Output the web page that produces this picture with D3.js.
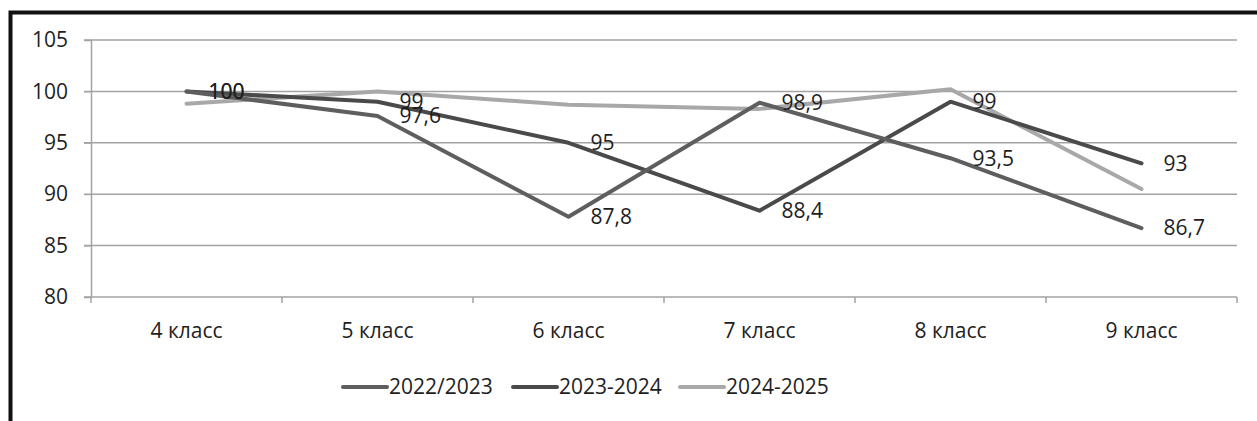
<!DOCTYPE html>
<html>
<head>
<meta charset="utf-8">
<script src="https://cdn.jsdelivr.net/npm/d3@7"></script>
<style>
  body { margin: 0; background: #fff; }
  svg { display: block; font-family: 'Open Sans', sans-serif; }
</style>
</head>
<body>
<div class="chart"></div>
<script>
const categories = ['4 класс', '5 класс', '6 класс', '7 класс', '8 класс', '9 класс'];
const seriesNames = ['2022/2023', '2023-2024', '2024-2025'];
const values2022 = [100, 97.6, 87.8, 98.9, 93.5, 86.7];
const values2023 = [100, 99, 95, 88.4, 99, 93];
const values2024 = [98.8, 100, 98.7, 98.3, 100.2, 90.5];
const yTicks = [80, 85, 90, 95, 100, 105];

const colors = ['#5e5e5e', '#4a4a4a', '#a8a8a8'];
const showLabels = [true, true, false];
const series = [values2022, values2023, values2024].map((v, i) => ({
  name: seriesNames[i], values: v, color: colors[i], labels: showLabels[i]
}));

const width = 1257, height = 421;
const fontSize = 21;
const textColor = '#1e1e1e';

const svg = d3.select('.chart')
  .append('svg')
  .attr('width', width)
  .attr('height', height);

// frame
svg.append('path')
  .attr('d', 'M10.5,421 V12.5 H1257')
  .attr('fill', 'none')
  .attr('stroke', '#111')
  .attr('stroke-width', 4);

const x = d3.scaleBand()
  .domain(categories)
  .range([91, 1237]);

const y = d3.scaleLinear()
  .domain([80, 105])
  .range([297, 40]);

// grid
svg.append('g')
  .selectAll('line')
  .data(yTicks)
  .enter()
  .append('line')
  .attr('x1', 84)
  .attr('x2', 1237)
  .attr('y1', d => y(d))
  .attr('y2', d => y(d))
  .attr('stroke', '#a3a3a3')
  .attr('stroke-width', 1.5);

// y axis
const yAxis = d3.axisLeft(y).tickValues(yTicks).tickSize(7).tickPadding(16);
const yg = svg.append('g')
  .attr('transform', 'translate(91,0)')
  .call(yAxis);
yg.select('.domain').attr('stroke', '#a3a3a3').attr('stroke-width', 1.5);
yg.selectAll('line').attr('stroke', '#a3a3a3');
yg.selectAll('text').attr('font-size', fontSize).attr('fill', textColor)
  .attr('font-family', "'Open Sans', sans-serif");

// x axis
const boundaries = categories.map(c => x(c)).concat([x.range()[1]]);
svg.append('g')
  .selectAll('line')
  .data(boundaries)
  .enter()
  .append('line')
  .attr('x1', d => d)
  .attr('x2', d => d)
  .attr('y1', 297)
  .attr('y2', 303)
  .attr('stroke', '#a3a3a3')
  .attr('stroke-width', 1.5);

svg.append('g')
  .selectAll('text')
  .data(categories)
  .enter()
  .append('text')
  .attr('x', d => x(d) + x.bandwidth() / 2)
  .attr('y', 338)
  .attr('text-anchor', 'middle')
  .attr('font-size', fontSize)
  .attr('fill', textColor)
  .text(d => d);

// lines
const line = d3.line()
  .x((d, i) => x(categories[i]) + x.bandwidth() / 2)
  .y(d => y(d));

const drawOrder = [2, 1, 0];
drawOrder.forEach(si => {
  const s = series[si];
  svg.append('path')
    .attr('d', line(s.values))
    .attr('fill', 'none')
    .attr('stroke', s.color)
    .attr('stroke-width', 4)
    .attr('stroke-linejoin', 'round')
    .attr('stroke-linecap', 'round');
});

// data labels
series.filter(s => s.labels).forEach(s => {
  svg.append('g')
    .selectAll('text')
    .data(s.values)
    .enter()
    .append('text')
    .attr('x', (d, i) => x(categories[i]) + x.bandwidth() / 2 + 22)
    .attr('y', d => y(d))
    .attr('dy', '0.35em')
    .attr('font-size', fontSize)
    .attr('fill', textColor)
    .text(d => String(d).replace('.', ','));
});

// legend
const legendX = [343, 513, 680];
const legend = svg.append('g')
  .selectAll('g')
  .data(series)
  .enter()
  .append('g')
  .attr('transform', (d, i) => 'translate(' + legendX[i] + ',387)');
legend.append('line')
  .attr('x1', 0)
  .attr('x2', 44)
  .attr('stroke', d => d.color)
  .attr('stroke-width', 4)
  .attr('stroke-linecap', 'round');
legend.append('text')
  .attr('x', 46)
  .attr('dy', '0.35em')
  .attr('font-size', fontSize)
  .attr('fill', textColor)
  .text(d => d.name);
</script>
</body>
</html>
